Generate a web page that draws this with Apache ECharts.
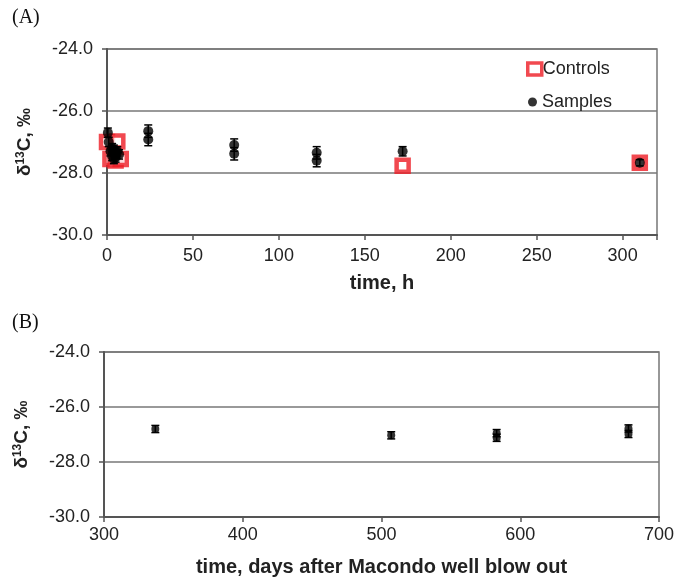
<!DOCTYPE html>
<html>
<head>
<meta charset="utf-8">
<script src="https://cdn.jsdelivr.net/npm/echarts@6/dist/echarts.min.js"></script>
<style>
  html, body { margin: 0; padding: 0; background: #fff; }
  #chart { width: 674px; height: 581px; }
</style>
</head>
<body>
<div id="chart"></div>
<script>
// panel A: hours after start, delta 13C (permil)
const controlsA = [[0, -27.0], [6, -26.98], [2, -27.55], [5, -27.6], [8, -27.55], [172, -27.77], [310, -27.67]];
const samplesA = [
  [0.5, -26.7], [1, -27.0], [2, -27.3], [3, -27.2], [4, -27.25], [5, -27.35], [6, -27.3], [3, -27.45],
  [5, -27.5], [7, -27.4], [4, -27.55],
  [24, -26.65], [24, -26.92], [74, -27.1], [74, -27.38], [122, -27.35], [122, -27.6], [172, -27.3], [310, -27.67]
];
const samplesAErr = [
  0.15, 0.15, 0.15, 0.15, 0.15, 0.15, 0.15, 0.15,
  0.15, 0.15, 0.15,
  0.2, 0.2, 0.2, 0.2, 0.2, 0.2, 0.15, 0.1
];

// panel B: days after Macondo blow out
const samplesB = [[337, -26.8], [507, -27.03], [583, -26.95], [583, -27.12], [678, -26.78], [678, -26.98]];
const samplesBErr = [0.13, 0.13, 0.13, 0.13, 0.13, 0.13];

const yTicks = [-30, -28, -26, -24];
const red = "#ee1c24";
const font = "Liberation Sans";

function toErrorData(points, errs) {
  return points.map((p, i) => [p[0], p[1] - errs[i], p[1] + errs[i]]);
}

function renderErrorBar(params, api) {
  const x = api.value(0);
  const lo = api.coord([x, api.value(1)]);
  const hi = api.coord([x, api.value(2)]);
  const half = 4;
  const style = { stroke: "#000", lineWidth: 1.5 };
  return {
    type: "group",
    children: [
      { type: "line", shape: { x1: hi[0], y1: hi[1], x2: lo[0], y2: lo[1] }, style: style },
      { type: "line", shape: { x1: hi[0] - half, y1: hi[1], x2: hi[0] + half, y2: hi[1] }, style: style },
      { type: "line", shape: { x1: lo[0] - half, y1: lo[1], x2: lo[0] + half, y2: lo[1] }, style: style },
    ],
  };
}

const yAxisBase = {
  type: "value",
  min: yTicks[0],
  max: yTicks[yTicks.length - 1],
  interval: 2,
  name: "{d|δ}{sup|13}{d|C, ‰}",
  nameLocation: "middle",
  nameGap: 72,
  nameTextStyle: {
    rich: {
      d: { fontFamily: font, fontSize: 19, fontWeight: "bold", color: "#222" },
      sup: { fontFamily: font, fontSize: 12, fontWeight: "bold", color: "#222", verticalAlign: "top", padding: [0, 0, 8, 0] },
    },
  },
  axisLine: { show: true, lineStyle: { color: "#555", width: 2 } },
  axisTick: { show: true, length: 5, lineStyle: { color: "#555", width: 1.5 } },
  axisLabel: {
    margin: 14,
    fontFamily: font,
    fontSize: 18,
    color: "#222",
    formatter: (v) => v.toFixed(1),
  },
  splitLine: { show: true, lineStyle: { color: "#777", width: 1.5 } },
};

const xAxisBase = {
  type: "value",
  nameLocation: "middle",
  nameTextStyle: { fontFamily: font, fontSize: 20, fontWeight: "bold", color: "#222" },
  axisLine: { show: true, onZero: false, lineStyle: { color: "#555", width: 2 } },
  axisTick: { show: true, length: 5, lineStyle: { color: "#555", width: 1.5 } },
  axisLabel: { fontFamily: font, fontSize: 18, color: "#222" },
  splitLine: { show: false },
};

const chart = echarts.init(document.getElementById("chart"));

chart.setOption({
  animation: false,
  backgroundColor: "#fff",
  graphic: [
    { type: "text", left: 12, top: 8, style: { text: "(A)", fontFamily: "Liberation Serif", fontSize: 20, fill: "#111" } },
    { type: "text", left: 12, top: 313, style: { text: "(B)", fontFamily: "Liberation Serif", fontSize: 20, fill: "#111" } },
  ],
  legend: [
    {
      left: 526,
      top: 60,
      padding: 0,
      itemWidth: 14,
      itemHeight: 12,
      data: [{ name: "Controls", itemStyle: { color: "#fff", borderColor: red, borderWidth: 3.5 } }],
      textStyle: { fontFamily: font, fontSize: 18, color: "#222", padding: [0, 0, 0, -4] },
    },
    {
      left: 528,
      top: 93,
      padding: 0,
      itemWidth: 9,
      itemHeight: 9,
      data: ["Samples"],
      textStyle: { fontFamily: font, fontSize: 18, color: "#222", padding: [0, 0, 0, 0] },
    },
  ],
  grid: [
    { left: 107, right: 17, top: 49, bottom: 346, outerBoundsMode: "none", show: true, borderColor: "#777", borderWidth: 1.5 },
    { left: 104, right: 15, top: 352, bottom: 64, outerBoundsMode: "none", show: true, borderColor: "#777", borderWidth: 1.5 },
  ],
  xAxis: [
    Object.assign({}, xAxisBase, {
      gridIndex: 0,
      min: 0,
      max: 320,
      interval: 50,
      name: "time, h",
      nameGap: 38,
      axisLabel: Object.assign({}, xAxisBase.axisLabel, {
        margin: 12,
        formatter: (v) => (v > 300 ? "" : String(v)),
      }),
    }),
    Object.assign({}, xAxisBase, {
      gridIndex: 1,
      min: 300,
      max: 700,
      interval: 100,
      name: "time, days after Macondo well blow out",
      nameGap: 40,
      axisLabel: Object.assign({}, xAxisBase.axisLabel, { margin: 9 }),
    }),
  ],
  yAxis: [
    Object.assign({}, yAxisBase, { gridIndex: 0 }),
    Object.assign({}, yAxisBase, { gridIndex: 1 }),
  ],
  series: [
    {
      name: "Controls",
      type: "scatter",
      xAxisIndex: 0,
      yAxisIndex: 0,
      symbol: "rect",
      symbolSize: 12,
      data: controlsA,
      itemStyle: { color: "#fff", borderColor: red, borderWidth: 4.5 },
      z: 2,
    },
    {
      type: "custom",
      xAxisIndex: 0,
      yAxisIndex: 0,
      renderItem: renderErrorBar,
      data: toErrorData(samplesA, samplesAErr),
      z: 3,
    },
    {
      name: "Samples",
      type: "scatter",
      xAxisIndex: 0,
      yAxisIndex: 0,
      symbol: "circle",
      symbolSize: 10,
      data: samplesA,
      itemStyle: { color: "#000" },
      z: 4,
    },
    {
      type: "custom",
      xAxisIndex: 1,
      yAxisIndex: 1,
      renderItem: renderErrorBar,
      data: toErrorData(samplesB, samplesBErr),
      z: 3,
    },
    {
      name: "Samples",
      type: "scatter",
      xAxisIndex: 1,
      yAxisIndex: 1,
      symbol: "circle",
      symbolSize: 8,
      data: samplesB,
      itemStyle: { color: "#000" },
      z: 4,
    },
  ],
});
</script>
</body>
</html>
